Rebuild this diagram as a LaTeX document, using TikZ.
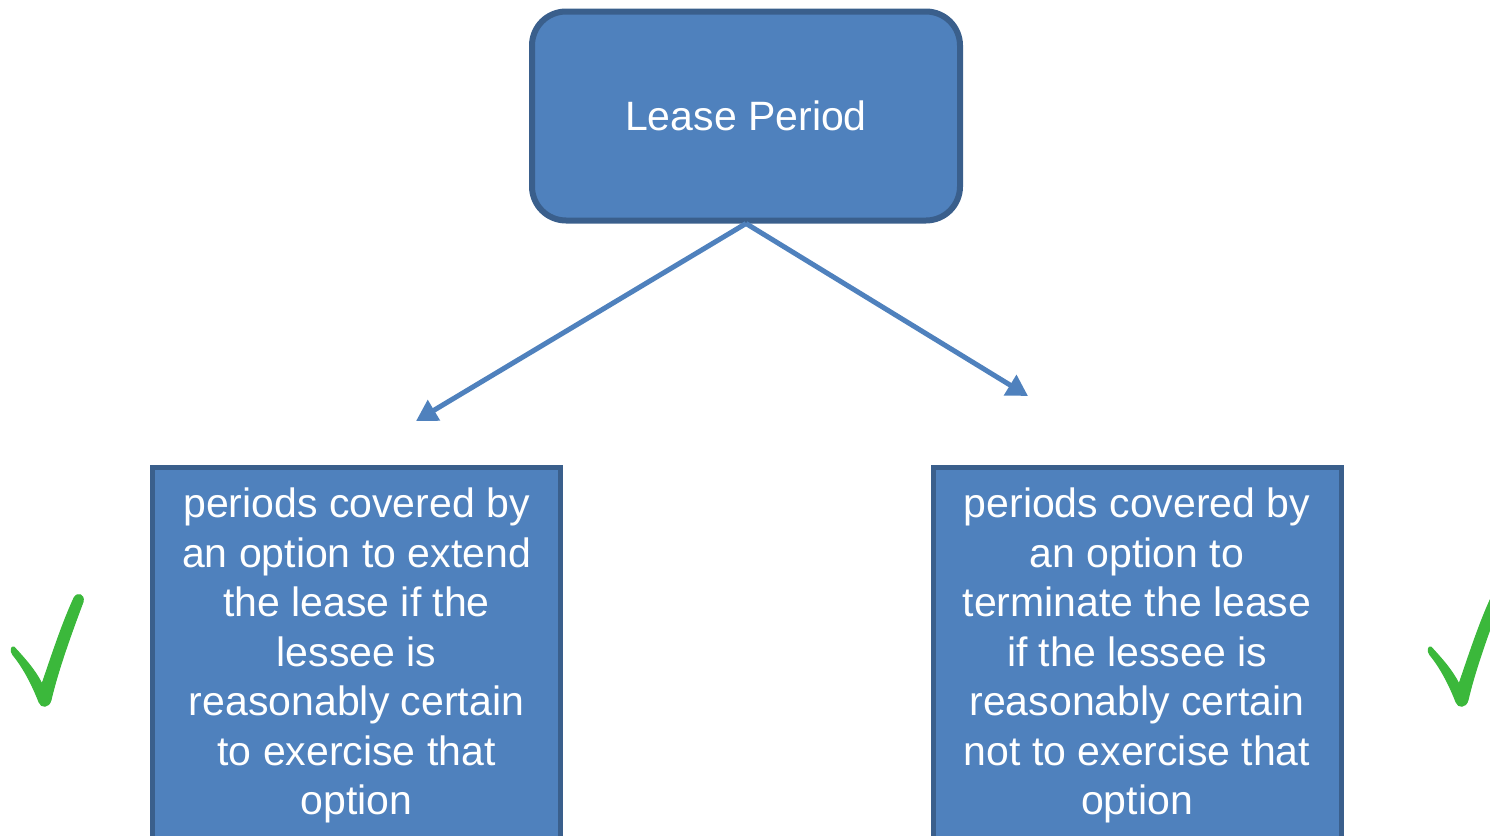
\documentclass[tikz,border=0pt]{standalone}
\usepackage{fontspec}
\setmainfont{Liberation Sans}
\usetikzlibrary{arrows.meta}
\definecolor{boxfill}{HTML}{4F81BD}
\definecolor{boxedge}{HTML}{3A5F8C}
\definecolor{tickgreen}{HTML}{3BB83B}
\tikzset{
  topbox/.style={draw=boxedge, fill=boxfill, line width=6pt, rounded corners=34pt,
    minimum width=428pt, minimum height=209pt, text=white, inner sep=0pt,
    font=\fontsize{41}{49.5}\selectfont},
  optionbox/.style={draw=boxedge, fill=boxfill, line width=5pt,
    minimum width=408pt, minimum height=376pt, text=white, inner sep=0pt,
    align=center, font=\fontsize{41}{49.5}\selectfont},
  branch/.style={draw=boxfill, line width=5pt,
    -{Triangle[length=21pt,width=23pt]}},
  tick/.style={fill=tickgreen, draw=tickgreen, line width=1pt, line join=round}
}
% green tick mark, drawn as a filled brush stroke
\newcommand{\greentick}[1]{%
  \begin{scope}[shift={#1}]
    \path[tick] (14,647) .. controls (25,659) and (35,670) .. (42,684)
      .. controls (52,655) and (62,624) .. (74,598)
      .. controls (77,592) and (85,594) .. (83,602)
      .. controls (71,634) and (58,670) .. (51,700)
      .. controls (49,708) and (41,708) .. (39,702)
      .. controls (32,684) and (23,667) .. (13,655)
      .. controls (10,651) and (11,646) .. (14,647) -- cycle;
  \end{scope}}
\begin{document}
\begin{tikzpicture}[x=1pt, y=-1pt]
  \useasboundingbox (0,0) rectangle (1490,835);
  \clip (0,0) rectangle (1490,835);

  \node[topbox] (lease) at (746,116) {Lease Period};

  \node[optionbox] (extend) at (356.5,655.5) {periods covered by\\an option to extend\\the lease if the\\lessee is\\reasonably certain\\to exercise that\\option};
  \node[optionbox] (terminate) at (1137,655.5) {periods covered by\\an option to\\terminate the lease\\if the lessee is\\reasonably certain\\not to exercise that\\option};

  \coordinate (leftend) at (416,421);
  \coordinate (rightend) at (1028,396);
  \draw[branch] (lease.south) -- (leftend);
  \draw[branch] (lease.south) -- (rightend);

  \greentick{(0,0)}
  \greentick{(1417,0)}
\end{tikzpicture}
\end{document}
